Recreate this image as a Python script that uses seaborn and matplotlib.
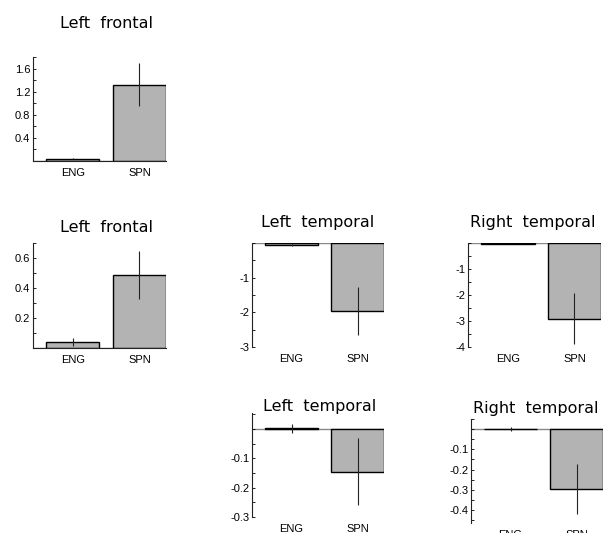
import matplotlib
matplotlib.use('Agg')
import matplotlib.pyplot as plt
import pandas as pd
import seaborn as sns
from matplotlib.ticker import MultipleLocator, FormatStrFormatter

groups = ['ENG', 'SPN']

# 各面板的均值和误差
lf1_mean = [0.04, 1.32]
lf1_err = [0.01, 0.37]
lf2_mean = [0.04, 0.487]
lf2_err = [0.025, 0.16]
lt1_mean = [-0.07, -1.97]
lt1_err = [0.03, 0.69]
rt1_mean = [-0.03, -2.92]
rt1_err = [0.01, 0.98]
lt2_mean = [0.003, -0.145]
lt2_err = [0.015, 0.115]
rt2_mean = [0.002, -0.295]
rt2_err = [0.01, 0.125]

titles = ['Left  frontal', 'Left  frontal', 'Left  temporal',
          'Right  temporal', 'Left  temporal', 'Right  temporal']

W, H = 603, 533
sns.set_style('white')
plt.rcParams['font.family'] = ['Liberation Sans', 'DejaVu Sans']
plt.rcParams['axes.unicode_minus'] = False
plt.rcParams['text.color'] = 'black'
plt.rcParams['xtick.color'] = 'black'
plt.rcParams['ytick.color'] = 'black'
plt.rcParams['xtick.labelcolor'] = 'black'
plt.rcParams['ytick.labelcolor'] = 'black'

fig = plt.figure(figsize=(W / 100, H / 100), dpi=100)


def px_axes(left, top, right, bottom):
    return fig.add_axes([left / W, 1 - bottom / H, (right - left) / W, (bottom - top) / H])


# (均值, 误差, 像素位置, y范围, 主刻度, 次刻度, 格式, 标题位置)
panels = [
    (lf1_mean, lf1_err, (33, 57, 166, 161), (0, 1.8), 0.4, 0.2, '%.1f', (107, 24)),
    (lf2_mean, lf2_err, (33, 243, 166, 348), (0, 0.7), 0.2, 0.1, '%.1f', (107, 227)),
    (lt1_mean, lt1_err, (252, 243, 384, 347), (-3, 0), 1, 0.5, '%d', (318, 222)),
    (rt1_mean, rt1_err, (468, 243, 601, 347), (-4, 0), 1, 0.5, '%d', (533, 222)),
    (lt2_mean, lt2_err, (252, 413, 384, 517), (-0.3, 0.055), 0.1, 0.05, '%.1f', (320, 407)),
    (rt2_mean, rt2_err, (471, 419, 603, 523), (-0.464, 0.05), 0.1, 0.05, '%.1f', (536, 409)),
]

for title, (mean, err, rect, ylim, major, minor, fmt, tpos) in zip(titles, panels):
    ax = px_axes(*rect)
    df = pd.DataFrame({'group': groups, 'value': mean})
    sns.barplot(data=df, x='group', y='value', ax=ax, color='#b3b3b3',
                saturation=1, edgecolor='black', linewidth=1, width=0.8)
    ax.errorbar([0, 1], mean, yerr=err, fmt='none', ecolor='#222222',
                elinewidth=0.8, capsize=0)
    ax.axhline(0, color='#888888', lw=1, zorder=0)
    ax.set_xlim(-0.6, 1.4)
    ax.set_ylim(*ylim)

    # 刻度：主刻度有标签，0不显示
    ax.yaxis.set_major_locator(MultipleLocator(major))
    ax.yaxis.set_minor_locator(MultipleLocator(minor))
    labels = []
    for t in ax.get_yticks():
        labels.append('' if abs(t) < 1e-9 else fmt % t)
    ax.set_yticks(ax.get_yticks())
    ax.set_yticklabels(labels)
    ax.set_ylim(*ylim)
    ax.tick_params(axis='y', which='both', direction='in', length=2, width=0.6,
                   labelsize=8, pad=2, left=True)
    ax.tick_params(axis='x', length=0, labelsize=8, pad=5)
    ax.set_xlabel('')
    ax.set_ylabel('')

    sns.despine(ax=ax, top=True, right=True, bottom=ylim[0] < 0)
    for side in ['left', 'bottom']:
        ax.spines[side].set_linewidth(0.8)
        ax.spines[side].set_color('#222222')

    fig.text(tpos[0] / W, 1 - tpos[1] / H, title, ha='center', va='center',
             fontsize=11.5, family='DejaVu Sans', color='black')

fig.savefig('out.png', dpi=100)
